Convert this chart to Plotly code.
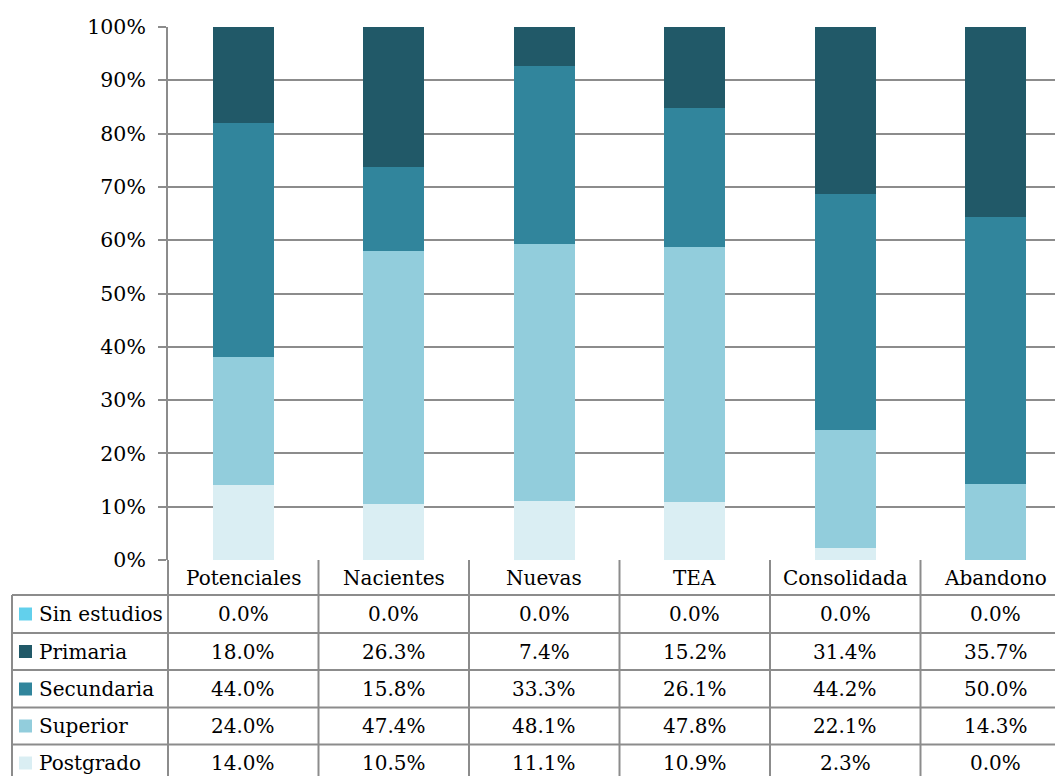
import plotly.graph_objects as go

categories = ["Potenciales", "Nacientes", "Nuevas", "TEA", "Consolidada", "Abandono"]
series_names = ["Sin estudios", "Primaria", "Secundaria", "Superior", "Postgrado"]
sin_estudios = [0.0, 0.0, 0.0, 0.0, 0.0, 0.0]
primaria = [18.0, 26.3, 7.4, 15.2, 31.4, 35.7]
secundaria = [44.0, 15.8, 33.3, 26.1, 44.2, 50.0]
superior = [24.0, 47.4, 48.1, 47.8, 22.1, 14.3]
postgrado = [14.0, 10.5, 11.1, 10.9, 2.3, 0.0]
colors = {"Sin estudios": "#62d0ec", "Primaria": "#215968", "Secundaria": "#31859c",
          "Superior": "#92cddc", "Postgrado": "#daeef3"}
values = {"Sin estudios": sin_estudios, "Primaria": primaria, "Secundaria": secundaria,
          "Superior": superior, "Postgrado": postgrado}
y_ticks = [0, 10, 20, 30, 40, 50, 60, 70, 80, 90, 100]
y_tick_labels = [f"{v}%" for v in y_ticks]

W, H = 1055, 776
L, T, B = 168, 27, 560
PH = B - T
PW = W - L
CAT_W = 150.5
FONT = "DejaVu Serif"
LINE = "#8c8c8c"

def py(pix):
    return (B - pix) / PH

def px(pix):
    return (pix - L) / PW

fig = go.Figure()
for name in ["Postgrado", "Superior", "Secundaria", "Primaria", "Sin estudios"]:
    fig.add_trace(go.Bar(x=categories, y=values[name], name=name,
                         marker=dict(color=colors[name], line=dict(width=0)),
                         width=0.405, showlegend=False))

shapes = []
annotations = []
row_lines = [595, 633, 670, 707.5, 744.5]
for yl in row_lines:
    shapes.append(dict(type="line", xref="paper", yref="paper", x0=px(12), x1=1.02,
                       y0=py(yl), y1=py(yl), line=dict(color=LINE, width=2)))
shapes.append(dict(type="line", xref="paper", yref="paper", x0=0, x1=0,
                   y0=0, y1=py(790), line=dict(color=LINE, width=2)))
shapes.append(dict(type="line", xref="paper", yref="paper", x0=px(12), x1=px(12),
                   y0=py(595), y1=py(790), line=dict(color=LINE, width=2)))
for k in range(len(categories) - 1):
    shapes.append(dict(type="line", xref="x", yref="paper", x0=k + 0.5, x1=k + 0.5,
                       y0=0, y1=py(790), line=dict(color=LINE, width=2)))

for c in categories:
    annotations.append(dict(x=c, xref="x", y=py(577.5), yref="paper", text=c,
                            showarrow=False, xanchor="center", yanchor="middle",
                            font=dict(family=FONT, size=20, color="#000")))

row_centers = [614, 651.5, 689, 726, 763]
for i, name in enumerate(series_names):
    yc = row_centers[i]
    shapes.append(dict(type="rect", xref="paper", yref="paper", x0=px(19), x1=px(32),
                       y0=py(yc - 6.5), y1=py(yc + 6.5), fillcolor=colors[name],
                       line=dict(width=0)))
    annotations.append(dict(x=px(37), xref="paper", y=py(yc), yref="paper", text=name,
                            showarrow=False, xanchor="left", yanchor="middle",
                            font=dict(family=FONT, size=20, color="#000")))
    for c, v in zip(categories, values[name]):
        annotations.append(dict(x=c, xref="x", y=py(yc), yref="paper", text=f"{v:.1f}%",
                                showarrow=False, xanchor="center", yanchor="middle",
                                font=dict(family=FONT, size=20, color="#000")))

fig.update_layout(
    width=W, height=H,
    margin=dict(l=L, r=0, t=T, b=H - B, pad=0),
    barmode="stack", barnorm="percent",
    plot_bgcolor="white", paper_bgcolor="white",
    font=dict(family=FONT, size=20, color="#000"),
    shapes=shapes, annotations=annotations,
    xaxis=dict(range=[-0.5, -0.5 + PW / CAT_W], showticklabels=False, showgrid=False,
               zeroline=False, showline=False, ticks=""),
    yaxis=dict(range=[0, 100], tickvals=y_ticks, ticktext=y_tick_labels, showgrid=True,
               gridcolor=LINE, gridwidth=2, zeroline=False, showline=True,
               linecolor=LINE, linewidth=2, ticks="outside", ticklen=8, tickwidth=2,
               tickcolor=LINE, ticklabelstandoff=8,
               tickfont=dict(family=FONT, size=20.5, color="#000")),
)

fig.write_html("out.html", config={"displayModeBar": False},
               post_script="document.body.style.margin='0';")
